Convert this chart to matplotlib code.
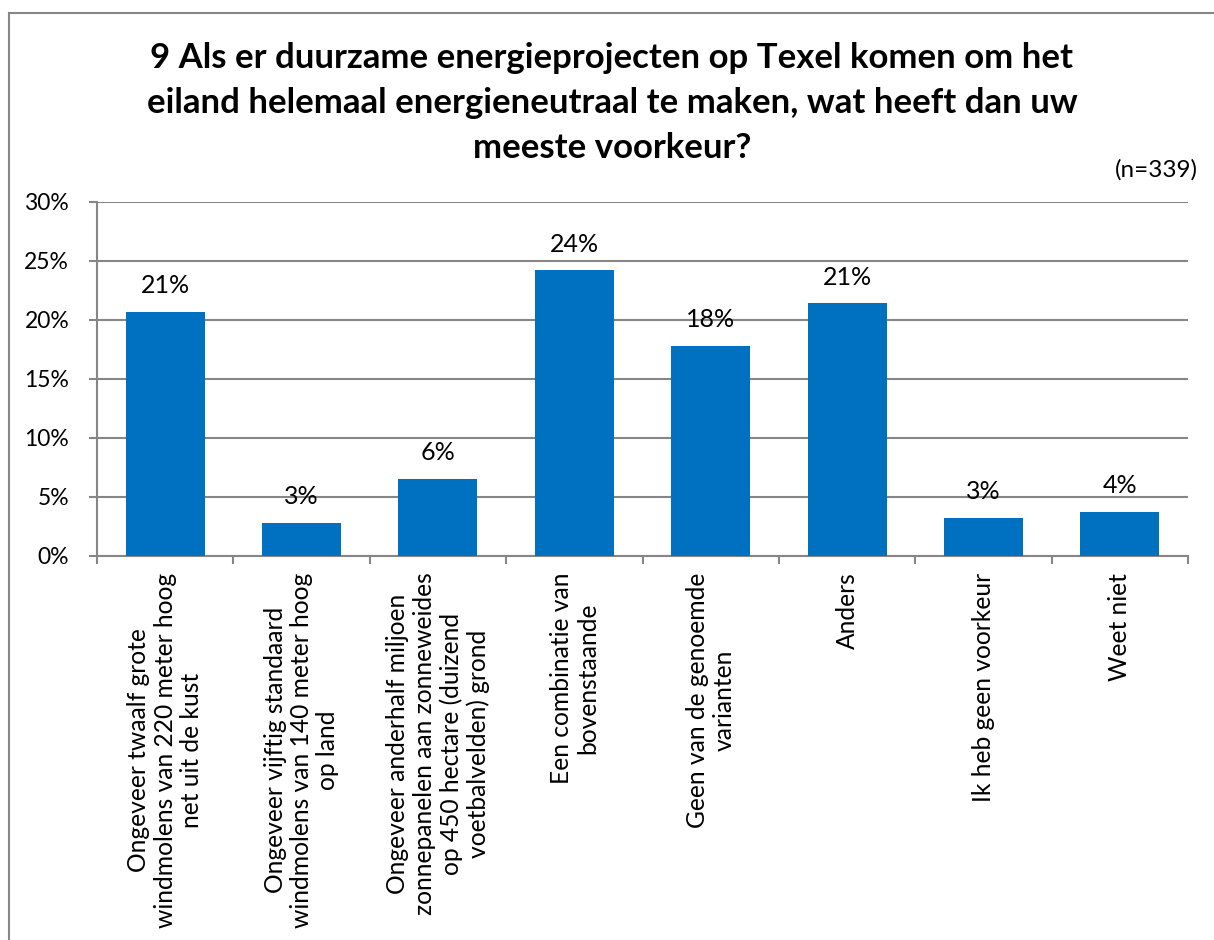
import matplotlib
matplotlib.use("Agg")
import matplotlib.pyplot as plt
from matplotlib.lines import Line2D
from matplotlib.ticker import FixedLocator, PercentFormatter

plt.rcParams['font.family'] = ['Lato', 'DejaVu Sans']

categories = [
    "Ongeveer twaalf grote\nwindmolens van 220 meter hoog\nnet uit de kust",
    "Ongeveer vijftig standaard\nwindmolens van 140 meter hoog\nop land",
    "Ongeveer anderhalf miljoen\nzonnepanelen aan zonneweides\nop 450 hectare (duizend\nvoetbalvelden) grond",
    "Een combinatie van\nbovenstaande",
    "Geen van de genoemde\nvarianten",
    "Anders",
    "Ik heb geen voorkeur",
    "Weet niet",
]
values = [20.7, 2.8, 6.5, 24.2, 17.8, 21.4, 3.2, 3.7]
value_labels = ["21%", "3%", "6%", "24%", "18%", "21%", "3%", "4%"]
yticks = [0, 5, 10, 15, 20, 25, 30]

title = ("9 Als er duurzame energieprojecten op Texel komen om het\n"
         "eiland helemaal energieneutraal te maken, wat heeft dan uw\n"
         "meeste voorkeur?")
n_label = "(n=339)"

W, H = 1214, 940
fig = plt.figure(figsize=(W / 100, H / 100), dpi=100)
ax = fig.add_axes([97 / W, 1 - 556 / H, (1188 - 97) / W, (556 - 202) / H])

bar_color = "#0070C0"
grid_color = "#868686"

x = list(range(len(categories)))
bars = ax.bar(x, values, width=0.58, color=bar_color, zorder=3)

for xi, v, lab in zip(x, values, value_labels):
    ax.annotate(lab, (xi, v), xytext=(0, 19), textcoords="offset points",
                ha="center", va="center", fontsize=18, color="black")

ax.set_xlim(-0.5, len(categories) - 0.5)
ax.set_ylim(0, 30)
ax.set_yticks(yticks)
ax.yaxis.set_major_formatter(PercentFormatter(decimals=0))
ax.yaxis.grid(True, color=grid_color, linewidth=1.5, zorder=0)
ax.set_axisbelow(True)

ax.set_xticks(x)
ax.set_xticklabels(categories, rotation=90, ha="center", va="top",
                   multialignment="center", fontsize=17.7, linespacing=1.18)
ax.xaxis.set_minor_locator(FixedLocator([i - 0.5 for i in range(len(categories) + 1)]))
ax.tick_params(axis="x", which="major", length=0, pad=12)
ax.tick_params(axis="x", which="minor", length=6, width=1.5, color=grid_color, direction="out")
ax.tick_params(axis="y", length=6, width=1.5, color=grid_color, labelsize=16.5, pad=14)

for side in ["top", "right"]:
    ax.spines[side].set_visible(False)
for side in ["left", "bottom"]:
    ax.spines[side].set_color(grid_color)
    ax.spines[side].set_linewidth(1.5)

fig.text(612 / W, 1 - 42 / H, title, ha="center", va="top", fontsize=25,
         fontweight="bold", linespacing=1.5)
fig.text(1198 / W, 1 - 170 / H, n_label, ha="right", va="center", fontsize=17.5)

# outer chart frame
fig.add_artist(Line2D([9 / W, 9 / W], [0, 1 - 13 / H], transform=fig.transFigure,
                      color=grid_color, linewidth=1.5))
fig.add_artist(Line2D([9 / W, 1], [1 - 13 / H, 1 - 13 / H], transform=fig.transFigure,
                      color=grid_color, linewidth=1.5))

fig.savefig("out.png", dpi=100, facecolor="white")
